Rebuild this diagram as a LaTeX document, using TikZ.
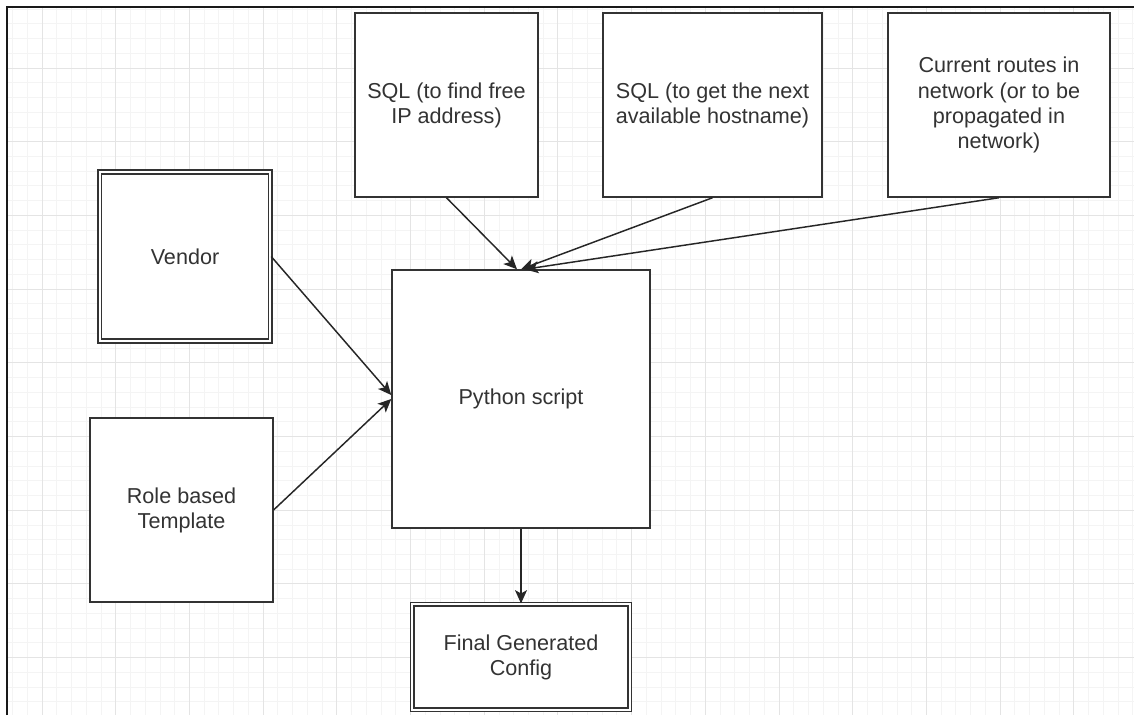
\documentclass[tikz,border=0pt]{standalone}
\usepackage{fontspec}
\setmainfont{Liberation Sans}
\usetikzlibrary{arrows.meta}
\definecolor{ink}{HTML}{333333}
\definecolor{gridminor}{HTML}{F4F4F4}
\definecolor{gridmajor}{HTML}{E4E4E4}
\tikzset{
  box/.style={draw=ink, line width=1.1pt, fill=white, text=ink, align=center,
    font=\fontsize{16.2}{18.8}\selectfont, inner sep=2pt},
  dbox/.style={box, double=white, double distance=1.6pt, line width=1.3pt},
  arr/.style={draw=black!85, line width=1.1pt, -{Stealth[length=10pt,width=9pt,inset=2.5pt]}}
}

\begin{document}
\begin{tikzpicture}[x=0.75pt, y=-0.75pt]
  \useasboundingbox (0,0) rectangle (1134,715);
  \fill[white] (0,0) rectangle (1134,715);
  % grid paper
  \foreach \i in {0,...,76} \draw[gridminor, line width=0.6pt] (12.5+14.74*\i,7) -- (12.5+14.74*\i,715);
  \foreach \i in {0,...,48} \draw[gridminor, line width=0.6pt] (7,9+14.74*\i) -- (1134,9+14.74*\i);
  \foreach \i in {0,...,15} \draw[gridmajor, line width=0.7pt] (42+73.7*\i,7) -- (42+73.7*\i,715);
  \foreach \i in {0,...,9} \draw[gridmajor, line width=0.7pt] (7,68+73.7*\i) -- (1134,68+73.7*\i);
  \draw[black!90, line width=2pt] (7,715) -- (7,7) -- (1134,7);

  % inputs
  \node[box, minimum width=137pt, minimum height=138pt] (sqlip) at (446.5,105)
    {SQL (to find free\\IP address)};
  \node[box, minimum width=164pt, minimum height=138pt] (sqlhost) at (712.5,105)
    {SQL (to get the next\\available hostname)};
  \node[box, minimum width=166.5pt, minimum height=138pt] (routes) at (999,105)
    {Current routes in\\network (or to be\\propagated in\\network)};
  \node[dbox, minimum width=128pt, minimum height=127pt] (vendor) at (185,256.5) {Vendor};
  \node[box, minimum width=137pt, minimum height=138pt] (template) at (181.5,510)
    {Role based\\Template};

  % script and output
  \node[box, minimum width=193.5pt, minimum height=193.5pt] (python) at (521,399) {Python script};
  \node[dbox, minimum width=163pt, minimum height=79pt] (final) at (521,657)
    {Final Generated\\Config};

  \draw[arr] (sqlip.south) -- ([xshift=-3pt]python.north);
  \draw[arr] (sqlhost.south) -- (python.north);
  \draw[arr] (routes.south) -- ([xshift=3pt]python.north);
  \draw[arr] (vendor.east) -- ([yshift=3pt]python.west);
  \draw[arr] (template.east) -- (python.west);
  \draw[arr] (python.south) -- (final.north);
\end{tikzpicture}
\end{document}
